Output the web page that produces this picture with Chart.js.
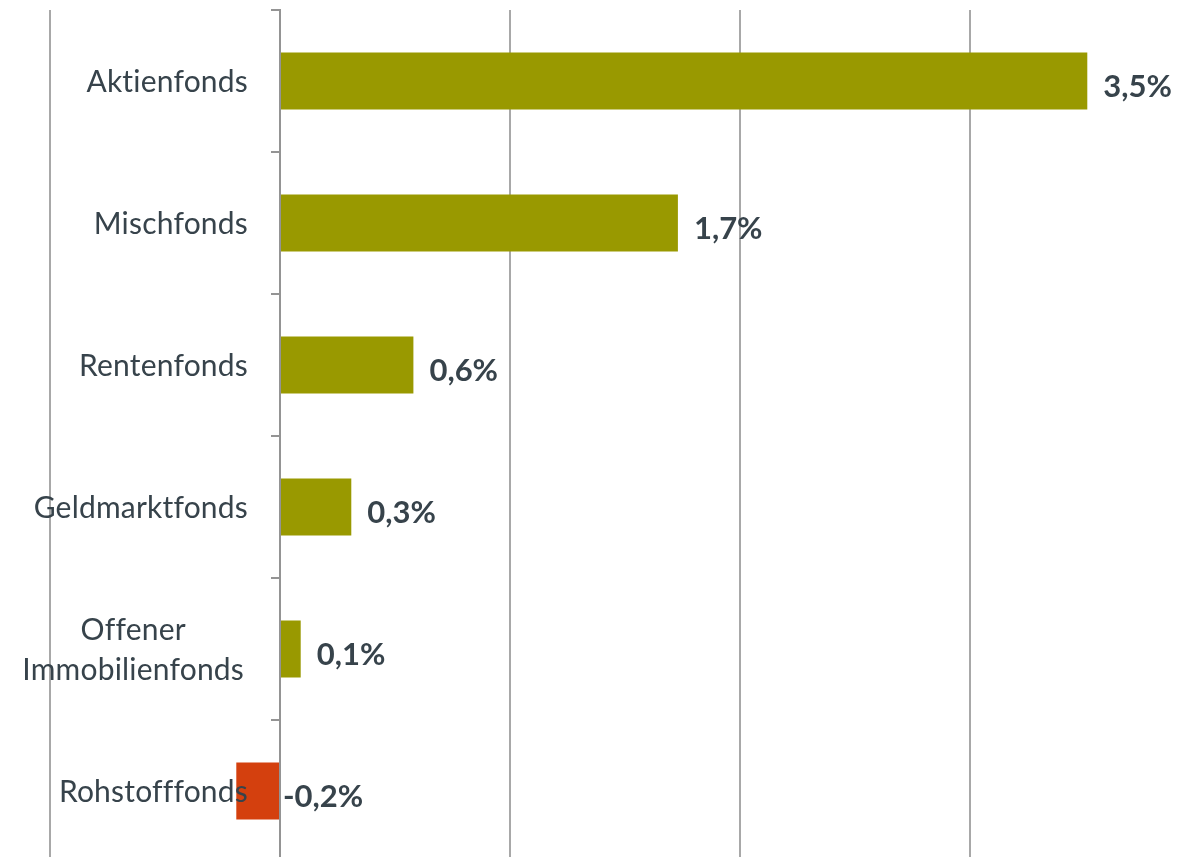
<!DOCTYPE html>
<html lang="de">
<head>
<meta charset="utf-8">
<title>Mittelzuflüsse nach Fondsart</title>
<script src="https://cdn.jsdelivr.net/npm/chart.js@4"></script>
<style>
  html, body { margin: 0; padding: 0; background: #fff; overflow: hidden; }
  #wrap { position: relative; width: 1200px; height: 872px; }
</style>
</head>
<body>
<div id="wrap"><canvas id="chart"></canvas></div>
<script>
// Kategorien (mehrzeilige Beschriftung als Array)
const kategorien = [
    'Aktienfonds',
    'Mischfonds',
    'Rentenfonds',
    'Geldmarktfonds',
    ['Offener', 'Immobilienfonds '],
    'Rohstofffonds'
];
// Werte in Prozent
const werte = [3.51, 1.73, 0.58, 0.31, 0.09, -0.19];
// Gitterlinien der x-Achse
const tickWerte = [-1, 0, 1, 2, 3];

const OLIV = '#999900';
const ROT = '#d4400e';
const TEXT = '#37434b';
const GRAU = '#a8a8a8';

const fmt = v => v.toFixed(1).replace('.', ',') + '%';

// Beschriftungen der Kategorien links von der Nulllinie
const kategorieLabels = {
    id: 'kategorieLabels',
    afterDatasetsDraw(chart) {
        const { ctx, scales } = chart;
        const rechts = scales.x.getPixelForValue(0) - 32;
        const size = 30;
        const zeile = 40;
        ctx.save();
        ctx.font = `${size}px Lato`;
        ctx.letterSpacing = '0.2px'; // keine Ligaturen (ti, ff)
        ctx.fillStyle = TEXT;
        ctx.textBaseline = 'alphabetic';
        ctx.textAlign = 'center';
        kategorien.forEach((label, i) => {
            const zeilen = Array.isArray(label) ? label : [label];
            const breite = Math.max(...zeilen.map(z => ctx.measureText(z).width));
            const mitteX = rechts - breite / 2;
            const mitteY = scales.y.getPixelForValue(i);
            const start = mitteY - (zeilen.length - 1) * zeile / 2 + size * 0.36;
            zeilen.forEach((z, j) => {
                ctx.fillText(z.trim(), mitteX, start + j * zeile);
            });
        });
        ctx.restore();
    }
};

// Wertbeschriftungen rechts neben den Balken
const wertLabels = {
    id: 'wertLabels',
    afterDatasetsDraw(chart) {
        const { ctx, scales } = chart;
        const meta = chart.getDatasetMeta(0);
        const null_px = scales.x.getPixelForValue(0);
        ctx.save();
        ctx.font = 'bold 31px Lato';
        ctx.fillStyle = TEXT;
        ctx.textAlign = 'left';
        ctx.textBaseline = 'alphabetic';
        meta.data.forEach((bar, i) => {
            const v = werte[i];
            const x = v < 0 ? null_px + 3 : bar.x + 16;
            ctx.fillText(fmt(v), x, bar.y + 16);
        });
        ctx.restore();
    }
};

new Chart(document.getElementById('chart'), {
    type: 'bar',
    data: {
        labels: kategorien,
        datasets: [{
            data: werte,
            backgroundColor: c => (c.raw < 0 ? ROT : OLIV),
            borderWidth: 0,
            barPercentage: 0.4,
            categoryPercentage: 1.0
        }]
    },
    options: {
        indexAxis: 'y',
        responsive: true,
        maintainAspectRatio: false,
        animation: false,
        layout: { padding: { left: 50, top: 10, right: 0, bottom: 10 } },
        plugins: {
            legend: { display: false },
            tooltip: { enabled: false }
        },
        scales: {
            x: {
                min: -1,
                max: 4,
                afterBuildTicks: scale => {
                    scale.ticks = tickWerte.map(v => ({ value: v }));
                },
                ticks: { display: false },
                border: { display: false },
                grid: {
                    color: GRAU,
                    lineWidth: 2,
                    drawTicks: false
                }
            },
            y: {
                position: { x: 0 },
                ticks: { display: false },
                border: { display: true, color: '#949494', width: 2 },
                grid: {
                    drawOnChartArea: false,
                    drawTicks: true,
                    tickLength: 8,
                    color: '#949494',
                    lineWidth: 2
                }
            }
        }
    },
    plugins: [kategorieLabels, wertLabels]
});
</script>
</body>
</html>
